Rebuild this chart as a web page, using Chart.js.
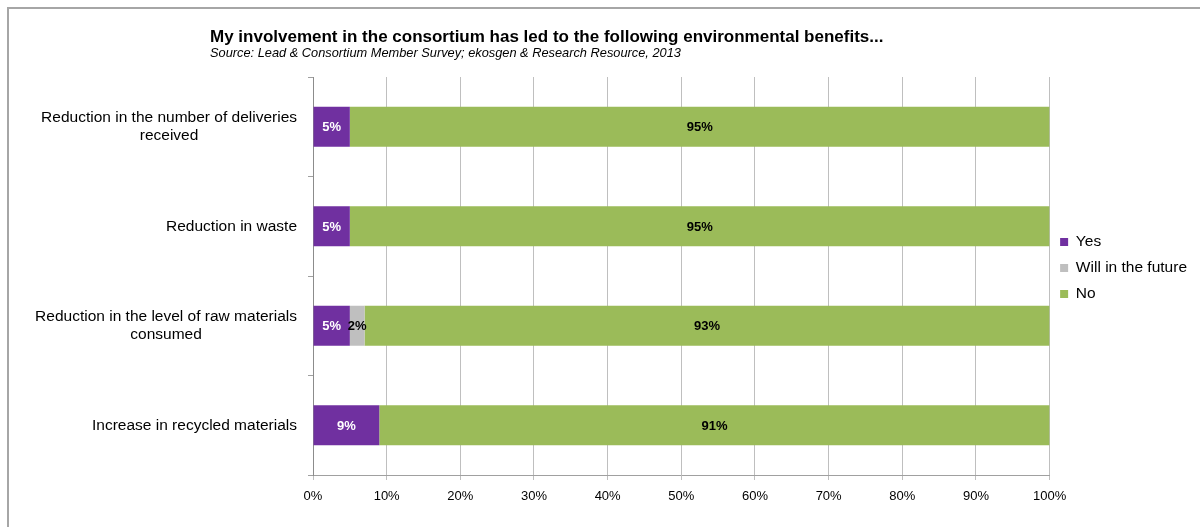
<!DOCTYPE html>
<html>
<head>
<meta charset="utf-8">
<script src="https://cdn.jsdelivr.net/npm/chart.js@4.4.1/dist/chart.umd.min.js"></script>
<style>
  body { margin: 0; background: #fff; overflow: hidden; }
  #wrap { position: relative; width: 1200px; height: 527px; }
  #frame { position: absolute; left: 7px; top: 7px; width: 1300px; height: 600px;
           border-left: 2px solid #a6a6a6; border-top: 2px solid #a6a6a6; }
  canvas { position: absolute; left: 0; top: 0; }
</style>
</head>
<body>
<div id="wrap">
  <div id="frame"></div>
  <canvas id="benefitsChart"></canvas>
</div>
<script>
// Survey answers per benefit, in percent
const categories = [
  ['Reduction in the number of deliveries', 'received'],
  ['Reduction in waste'],
  ['Reduction in the level of raw materials', 'consumed'],
  ['Increase in recycled materials']
];
const yesValues = [5, 5, 5, 9];
const futureValues = [0, 0, 2, 0];
const noValues = [95, 95, 93, 91];
const xTicks = [0, 10, 20, 30, 40, 50, 60, 70, 80, 90, 100];

Chart.defaults.font.family = "'Liberation Sans', Arial, sans-serif";
Chart.defaults.color = '#000';

// percent labels in the middle of each segment
const segmentLabels = {
  id: 'segmentLabels',
  afterDatasetsDraw(chart) {
    const ctx = chart.ctx;
    ctx.save();
    ctx.font = "bold 13px 'Liberation Sans', Arial, sans-serif";
    ctx.textAlign = 'center';
    ctx.textBaseline = 'middle';
    chart.data.datasets.forEach((ds, i) => {
      const meta = chart.getDatasetMeta(i);
      meta.data.forEach((bar, j) => {
        const v = ds.data[j];
        if (!v) return;
        const p = bar.getProps(['x', 'y', 'base'], true);
        ctx.fillStyle = i === 0 ? '#fff' : '#000';
        ctx.fillText(v + '%', (p.x + p.base) / 2, p.y + 1);
      });
    });
    ctx.restore();
  }
};

// category names: block right-aligned to the axis, lines centred within it
const categoryLabels = {
  id: 'categoryLabels',
  afterDraw(chart) {
    const ctx = chart.ctx;
    const yScale = chart.scales.y;
    const right = chart.chartArea.left - 16;
    const lh = 18.5;
    ctx.save();
    ctx.font = "15.5px 'Liberation Sans', Arial, sans-serif";
    ctx.fillStyle = '#000';
    ctx.textAlign = 'center';
    ctx.textBaseline = 'middle';
    chart.data.labels.forEach((lines, j) => {
      const widest = Math.max(...lines.map(l => ctx.measureText(l).width));
      const cx = right - widest / 2;
      const cy = yScale.getPixelForValue(j);
      lines.forEach((line, k) => {
        ctx.fillText(line, cx, cy + (k - (lines.length - 1) / 2) * lh);
      });
    });
    ctx.restore();
  }
};

new Chart(document.getElementById('benefitsChart'), {
  type: 'bar',
  data: {
    labels: categories,
    datasets: [
      { label: 'Yes', data: yesValues, backgroundColor: '#7030a0' },
      { label: 'Will in the future', data: futureValues, backgroundColor: '#bfbfbf' },
      { label: 'No', data: noValues, backgroundColor: '#9bbb59' }
    ]
  },
  options: {
    indexAxis: 'y',
    responsive: true,
    maintainAspectRatio: false,
    animation: false,
    categoryPercentage: 1,
    barPercentage: 0.4,
    layout: { padding: { top: 10, left: 210, right: 3, bottom: 1 } },
    scales: {
      x: {
        stacked: true,
        min: 0,
        max: 100,
        afterBuildTicks: scale => { scale.ticks = xTicks.map(v => ({ value: v })); },
        afterFit: scale => { scale.height = 51; },
        ticks: { callback: v => v + '%', font: { size: 13 }, padding: 9, color: '#000' },
        grid: { color: '#bfbfbf', tickLength: 5 },
        border: { color: '#a0a0a0' }
      },
      y: {
        stacked: true,
        afterFit: scale => { scale.width = 103; },
        ticks: { display: false },
        grid: { drawOnChartArea: false, tickLength: 5, color: '#a0a0a0', offset: true },
        border: { color: '#8c8c8c' }
      }
    },
    plugins: {
      title: {
        display: true,
        align: 'start',
        text: 'My involvement in the consortium has led to the following environmental benefits...',
        font: { size: 17, weight: 'bold' },
        color: '#000',
        padding: { top: 17, bottom: 0 }
      },
      subtitle: {
        display: true,
        align: 'start',
        text: 'Source: Lead & Consortium Member Survey; ekosgen & Research Resource, 2013',
        font: { size: 12.8, style: 'italic', lineHeight: 1 },
        color: '#000',
        padding: { top: 0, bottom: 16.8 }
      },
      legend: {
        position: 'right',
        labels: { boxWidth: 8, boxHeight: 8, padding: 10.5, font: { size: 15.5 }, color: '#000' }
      },
      tooltip: { enabled: false }
    }
  },
  plugins: [segmentLabels, categoryLabels]
});
</script>
</body>
</html>
